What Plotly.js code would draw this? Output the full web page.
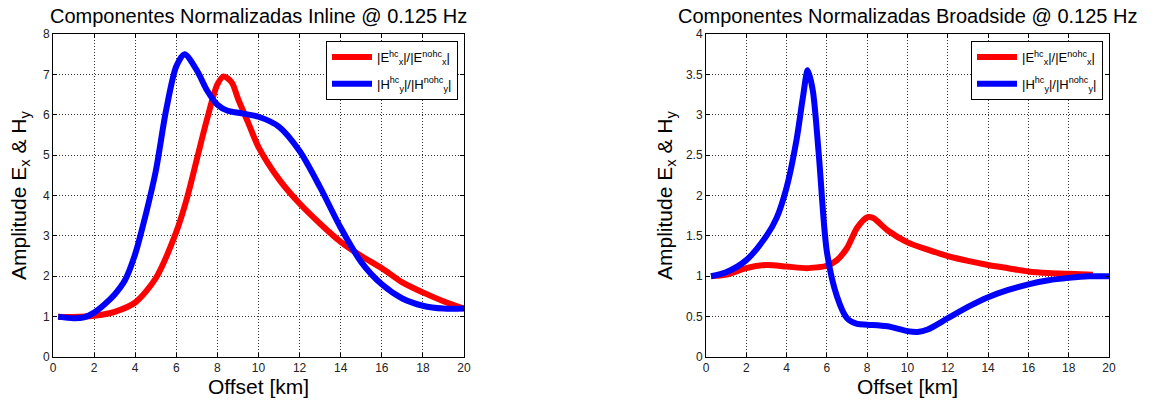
<!DOCTYPE html>
<html><head><meta charset="utf-8">
<script src="https://cdn.plot.ly/plotly-3.0.1.min.js"></script>
<style>html,body{margin:0;padding:0;background:#fff}#c{width:1154px;height:403px}</style>
</head><body><div id="c"></div>
<script>
// Inline @ 0.125 Hz
const inlineExX = [0.25,1,2,3,4,5,6,6.5,7,7.5,8,8.3,8.7,9,9.5,10,11,12,13,14,15,16,17,18,19,20];
const inlineExY = [1.0,0.99,1.02,1.12,1.35,1.95,3.1,3.9,4.9,5.9,6.75,6.95,6.8,6.4,5.8,5.2,4.4,3.8,3.3,2.85,2.5,2.2,1.85,1.6,1.38,1.2];
const inlineHyX = [0.25,1,1.5,2,2.5,3,3.5,4,4.5,5,5.5,6,6.4,7,7.5,8,8.5,9,10,11,12,13,14,15,16,17,18,19,20];
const inlineHyY = [1.0,0.96,0.98,1.1,1.3,1.55,1.9,2.55,3.5,4.6,6.1,7.2,7.5,7.1,6.6,6.25,6.1,6.05,5.95,5.7,5.1,4.2,3.2,2.35,1.8,1.45,1.27,1.2,1.2];
// Broadside @ 0.125 Hz
const broadExX = [0.25,1,2,3,4,5,5.5,6,6.5,7,7.5,8,8.3,9,10,11,12,13,14,15,16,17,18,19.2];
const broadExY = [1.0,1.02,1.1,1.14,1.12,1.1,1.11,1.13,1.2,1.35,1.6,1.73,1.72,1.57,1.42,1.33,1.25,1.19,1.14,1.1,1.06,1.04,1.03,1.02];
const broadHyX = [0.25,1,2,3,3.5,4,4.5,4.8,5.05,5.3,5.6,6,6.5,7,7.5,8,9,10,10.5,11,12,13,14,15,16,17,18,19,20];
const broadHyY = [1.0,1.05,1.2,1.5,1.72,2.1,2.7,3.2,3.55,3.3,2.5,1.3,0.75,0.48,0.41,0.4,0.38,0.32,0.31,0.34,0.48,0.62,0.74,0.83,0.9,0.95,0.98,1.0,1.0];

const nameEx = '|E<sup>hc</sup><sub>x</sub>|/|E<sup>nohc</sup><sub>x</sub>|';
const nameHy = '|H<sup>hc</sup><sub>y</sub>|/|H<sup>nohc</sup><sub>y</sub>|';
const titleL = 'Componentes Normalizadas Inline @ 0.125 Hz';
const titleR = 'Componentes Normalizadas Broadside @ 0.125 Hz';
const xTitle = 'Offset [km]';
const yTitle = 'Amplitude E<sub>x</sub> & H<sub>y</sub>';

const W = 1154, H = 403;
const font = 'Liberation Sans, Arial, sans-serif';
const lineW = 6;
function tr(x, y, name, color, xa, ya, lg, grp) {
  return {x, y, name, type:'scatter', mode:'lines', line:{color, width:lineW, shape:'spline', smoothing:0.8},
          xaxis:xa, yaxis:ya, legend:lg, legendgroup:grp};
}
const data = [
  tr(inlineExX, inlineExY, nameEx, '#ff0000', 'x', 'y', 'legend', 'a'),
  tr(inlineHyX, inlineHyY, nameHy, '#0000ff', 'x', 'y', 'legend', 'b'),
  tr(broadExX, broadExY, nameEx, '#ff0000', 'x2', 'y2', 'legend2', 'c'),
  tr(broadHyX, broadHyY, nameHy, '#0000ff', 'x2', 'y2', 'legend2', 'd'),
];
const yd = [(H-357)/H, (H-34)/H];
function ax(extra) {
  return Object.assign({showline:true, mirror:'ticks', linecolor:'#000', linewidth:1,
    ticks:'inside', ticklen:4, tickcolor:'#000', showgrid:true, gridcolor:'#333', griddash:'1px,2px', gridwidth:1,
    zeroline:false, tickfont:{family:font, size:12, color:'#222'}, fixedrange:true}, extra);
}
const legendBase = {bgcolor:'#fff', bordercolor:'#000', borderwidth:1, font:{family:font, size:13, color:'#000'},
  xanchor:'right', yanchor:'top', yref:'paper', xref:'paper', tracegroupgap:7, itemwidth:40};
const layout = {
  width:W, height:H, margin:{l:0, r:0, t:0, b:0}, paper_bgcolor:'#fff', plot_bgcolor:'#fff',
  font:{family:font, color:'#000'},
  xaxis: ax({domain:[53/W, 464/W], range:[0,20], dtick:2, anchor:'y'}),
  yaxis: ax({domain:yd, range:[0,8], dtick:1, anchor:'x'}),
  xaxis2: ax({domain:[706/W, 1109/W], range:[0,20], dtick:2, anchor:'y2'}),
  yaxis2: ax({domain:yd, range:[0,4], dtick:0.5, anchor:'x2'}),
  legend: Object.assign({}, legendBase, {x:458/W, y:(H-41)/H}),
  legend2: Object.assign({}, legendBase, {x:1103/W, y:(H-41)/H}),
  annotations: [
    {text:titleL, xref:'paper', yref:'paper', x:258/W, y:(H-16)/H, xanchor:'center', yanchor:'middle', showarrow:false, font:{family:font, size:20}},
    {text:titleR, xref:'paper', yref:'paper', x:907/W, y:(H-16)/H, xanchor:'center', yanchor:'middle', showarrow:false, font:{family:font, size:20}},
    {text:xTitle, xref:'paper', yref:'paper', x:258/W, y:(H-386)/H, xanchor:'center', yanchor:'middle', showarrow:false, font:{family:font, size:21}},
    {text:xTitle, xref:'paper', yref:'paper', x:907/W, y:(H-386)/H, xanchor:'center', yanchor:'middle', showarrow:false, font:{family:font, size:21}},
    {text:yTitle, xref:'paper', yref:'paper', x:20/W, y:(H-196)/H, xanchor:'center', yanchor:'middle', showarrow:false, textangle:-90, font:{family:font, size:21}},
    {text:yTitle, xref:'paper', yref:'paper', x:666/W, y:(H-196)/H, xanchor:'center', yanchor:'middle', showarrow:false, textangle:-90, font:{family:font, size:21}},
  ]
};
Plotly.newPlot('c', data, layout, {displayModeBar:false, staticPlot:true});
</script></body></html>
